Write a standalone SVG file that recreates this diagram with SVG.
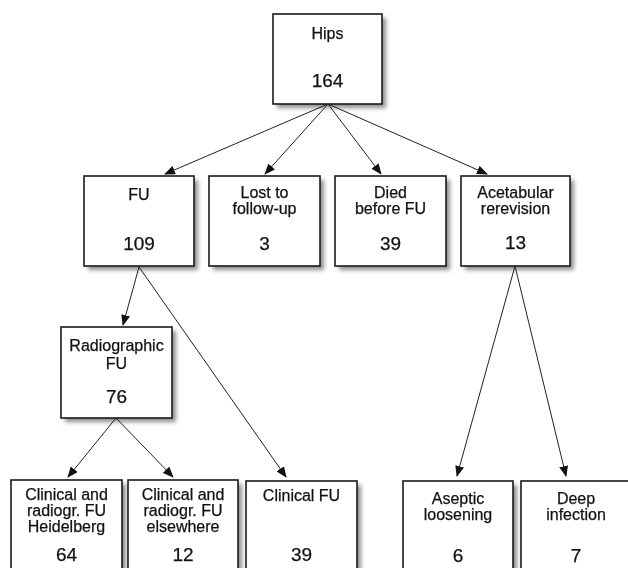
<svg xmlns="http://www.w3.org/2000/svg" width="628" height="568" viewBox="0 0 628 568">
<defs>
<style>
.box{fill:#fff;stroke:#1a1a1a;stroke-width:1.6}
.sh{fill:#6a6a6a;opacity:0.75}
.t{font-family:"Liberation Sans",Arial,sans-serif;font-size:16px;fill:#111;stroke:#111;stroke-width:0.25;text-anchor:middle}
.n{font-family:"Liberation Sans",Arial,sans-serif;font-size:19px;fill:#111;stroke:#111;stroke-width:0.25;text-anchor:middle}
.c{stroke:#222;stroke-width:1;fill:none;marker-end:url(#ah)}
</style>
<filter id="blur" x="-20%" y="-20%" width="140%" height="140%">
<feGaussianBlur stdDeviation="2"/>
</filter>
<marker id="ah" markerWidth="11" markerHeight="9" refX="10" refY="4.5" orient="auto" markerUnits="userSpaceOnUse">
<path d="M0,0 L11,4.5 L0,9 z" fill="#111"/>
</marker>
</defs>
<rect width="628" height="568" fill="#fff"/>
<g id="shadows" filter="url(#blur)">
<rect class="sh" x="277" y="18" width="109" height="90"/>
<rect class="sh" x="88" y="180" width="110" height="90"/>
<rect class="sh" x="213" y="180" width="111" height="90"/>
<rect class="sh" x="339" y="180" width="111" height="90"/>
<rect class="sh" x="465" y="180" width="109" height="90"/>
<rect class="sh" x="65" y="331" width="111" height="91"/>
<rect class="sh" x="15" y="484" width="111" height="100"/>
<rect class="sh" x="132" y="484" width="110" height="100"/>
<rect class="sh" x="250" y="485" width="111" height="100"/>
<rect class="sh" x="407" y="485" width="110" height="100"/>
<rect class="sh" x="525" y="485" width="110" height="100"/>
</g>
<g id="connectors">
<line class="c" x1="328" y1="104" x2="165" y2="174"/>
<line class="c" x1="328" y1="104" x2="265" y2="174"/>
<line class="c" x1="328" y1="104" x2="381" y2="174"/>
<line class="c" x1="328" y1="104" x2="487" y2="174"/>
<line class="c" x1="139" y1="267" x2="123" y2="325"/>
<line class="c" x1="139" y1="267" x2="286" y2="477"/>
<line class="c" x1="116" y1="418" x2="68" y2="477"/>
<line class="c" x1="116" y1="418" x2="173" y2="477"/>
<line class="c" x1="515" y1="266" x2="457" y2="476"/>
<line class="c" x1="515" y1="266" x2="566" y2="476"/>
</g>
<g id="hips"><rect class="box" x="273" y="14" width="109" height="90"/>
<text class="t" x="327.5" y="39">Hips</text><text class="n" x="327.5" y="87">164</text></g>
<g id="fu"><rect class="box" x="84" y="176" width="110" height="90"/>
<text class="t" x="139" y="200">FU</text><text class="n" x="139" y="250">109</text></g>
<g id="lost"><rect class="box" x="209" y="176" width="111" height="90"/>
<text class="t" x="264.5" y="198">Lost to</text><text class="t" x="264.5" y="214">follow-up</text><text class="n" x="264.5" y="250">3</text></g>
<g id="died"><rect class="box" x="335" y="176" width="111" height="90"/>
<text class="t" x="390.5" y="198">Died</text><text class="t" x="390.5" y="214">before FU</text><text class="n" x="390.5" y="250">39</text></g>
<g id="acetabular"><rect class="box" x="461" y="176" width="109" height="90"/>
<text class="t" x="515.5" y="198">Acetabular</text><text class="t" x="515.5" y="214">rerevision</text><text class="n" x="515.5" y="249">13</text></g>
<g id="radiographic"><rect class="box" x="61" y="327" width="111" height="91"/>
<text class="t" x="116.5" y="351">Radiographic</text><text class="t" x="116.5" y="369">FU</text><text class="n" x="116.5" y="403">76</text></g>
<g id="heidelberg"><rect class="box" x="11" y="480" width="111" height="100"/>
<text class="t" x="66.5" y="500">Clinical and</text><text class="t" x="66.5" y="516">radiogr. FU</text><text class="t" x="66.5" y="532">Heidelberg</text><text class="n" x="66.5" y="561">64</text></g>
<g id="elsewhere"><rect class="box" x="128" y="480" width="110" height="100"/>
<text class="t" x="183" y="500">Clinical and</text><text class="t" x="183" y="516">radiogr. FU</text><text class="t" x="183" y="532">elsewhere</text><text class="n" x="183" y="561">12</text></g>
<g id="clinical"><rect class="box" x="246" y="481" width="111" height="100"/>
<text class="t" x="301.5" y="501">Clinical FU</text><text class="n" x="301.5" y="561">39</text></g>
<g id="aseptic"><rect class="box" x="403" y="481" width="110" height="100"/>
<text class="t" x="458" y="504">Aseptic</text><text class="t" x="458" y="520">loosening</text><text class="n" x="458" y="562">6</text></g>
<g id="deep"><rect class="box" x="521" y="481" width="110" height="100"/>
<text class="t" x="576" y="504">Deep</text><text class="t" x="576" y="520">infection</text><text class="n" x="576" y="562">7</text></g>
</svg>
